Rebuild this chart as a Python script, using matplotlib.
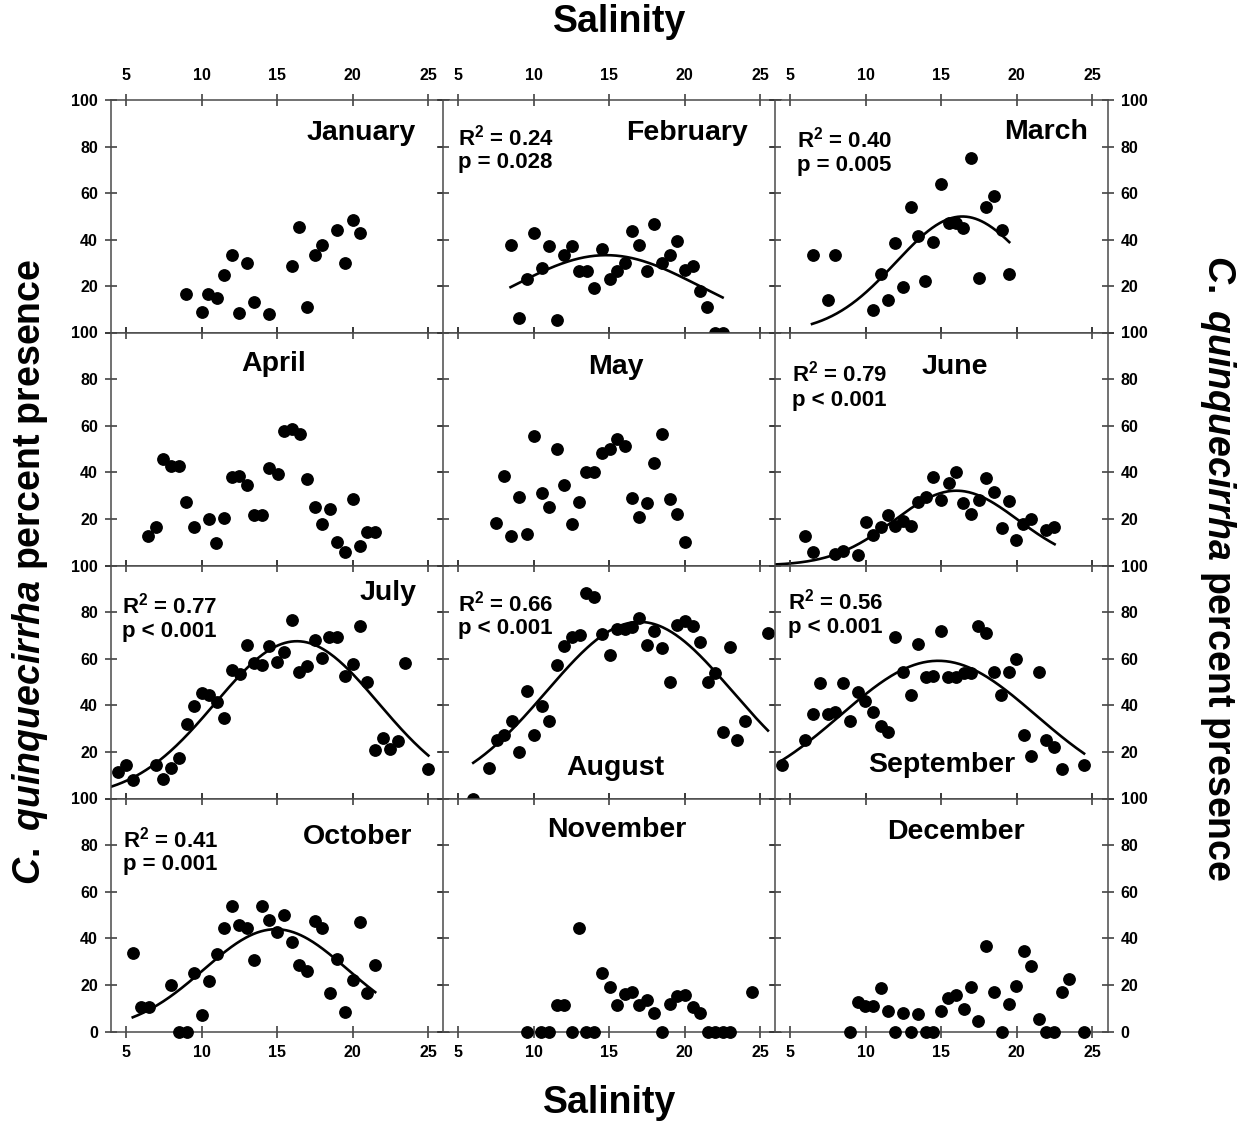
import matplotlib
matplotlib.use("Agg")
import matplotlib.pyplot as plt
import numpy as np

plt.rcParams["font.family"] = ["Liberation Sans", "DejaVu Sans"]
plt.rcParams["font.weight"] = "bold"
plt.rcParams["mathtext.fontset"] = "custom"
plt.rcParams["mathtext.rm"] = "Liberation Sans:bold"
plt.rcParams["mathtext.bf"] = "Liberation Sans:bold"
plt.rcParams["mathtext.it"] = "Liberation Sans:italic:bold"

MONTHS = ["January", "February", "March", "April", "May", "June",
          "July", "August", "September", "October", "November", "December"]

# salinity / percent presence per month
jan_sal = [8.96, 10.0, 10.44, 10.99, 11.48, 12.0, 12.49, 12.97, 13.46, 14.47,
           15.95, 16.45, 16.98, 17.49, 17.97, 18.96, 19.47, 19.98, 20.5]
jan_pct = [16.8, 9.2, 16.8, 15.1, 25.1, 33.4, 8.5, 30.0, 13.3, 8.3,
           28.7, 45.5, 11.0, 33.4, 37.6, 44.3, 30.0, 48.6, 43.0]

feb_sal = [8.52, 9.04, 9.53, 10.05, 10.52, 11.02, 11.53, 12.03, 12.54, 13.02,
           13.53, 14.01, 14.52, 15.02, 15.53, 16.01, 16.49, 17.0, 17.51, 17.99,
           18.47, 19.0, 19.51, 20.01, 20.52, 21.0, 21.48, 22.01, 22.5]
feb_pct = [37.6, 6.6, 23.2, 43.0, 28.0, 37.2, 5.6, 33.4, 37.2, 26.4,
           26.4, 19.4, 35.9, 23.0, 26.8, 30.1, 43.6, 37.7, 26.5, 46.6,
           30.0, 33.4, 39.6, 27.1, 28.7, 18.2, 11.0, 0.0, 0.0]

mar_sal = [6.5, 7.49, 8.0, 10.51, 10.99, 11.48, 11.96, 12.44, 12.97, 13.48, 13.94,
           14.45, 14.96, 15.48, 15.97, 16.45, 16.96, 17.47, 17.97, 18.48, 18.99, 19.47]
mar_pct = [33.4, 14.3, 33.4, 9.9, 25.3, 14.3, 38.5, 19.8, 54.1, 41.5, 22.2,
           38.9, 63.8, 47.2, 47.2, 45.0, 75.2, 23.5, 54.1, 58.7, 44.3, 25.3]

apr_sal = [6.48, 7.0, 7.47, 7.97, 8.5, 8.99, 9.49, 10.48, 10.97, 11.48, 11.98,
           12.49, 12.97, 13.46, 14.0, 14.47, 15.02, 15.44, 15.97, 16.48, 16.98,
           17.49, 17.97, 18.48, 18.96, 19.47, 19.98, 20.48, 20.97, 21.5]
apr_pct = [12.6, 16.7, 45.6, 42.7, 42.7, 27.1, 16.7, 20.0, 9.6, 20.6, 38.1,
           38.4, 34.4, 21.7, 21.7, 42.0, 39.3, 57.7, 58.4, 56.3, 37.0,
           24.9, 17.6, 24.4, 10.0, 5.7, 28.6, 8.3, 14.3, 14.3]

may_sal = [7.53, 8.03, 8.52, 9.02, 9.53, 10.03, 10.52, 11.02, 11.53, 12.01, 12.54,
           13.02, 13.48, 14.01, 14.52, 15.02, 15.53, 16.01, 16.49, 17.0, 17.51,
           17.99, 18.49, 19.0, 19.48, 19.99]
may_pct = [18.1, 38.4, 12.6, 29.3, 13.6, 55.6, 31.3, 25.0, 50.0, 34.7, 17.9,
           27.1, 40.0, 40.0, 48.4, 50.0, 54.1, 51.4, 29.1, 21.0, 26.7,
           44.0, 56.3, 28.6, 22.1, 10.0]

jun_sal = [5.99, 6.5, 8.0, 8.5, 9.47, 10.0, 10.51, 10.99, 11.48, 11.96, 12.47,
           12.97, 13.46, 13.96, 14.47, 14.96, 15.48, 15.99, 16.45, 16.96, 17.47,
           17.97, 18.48, 18.99, 19.47, 19.96, 20.44, 20.97, 21.94, 22.49]
jun_pct = [12.7, 5.7, 4.9, 6.3, 4.6, 18.6, 13.1, 16.7, 21.7, 17.1, 19.1,
           17.1, 27.4, 29.3, 37.9, 27.9, 35.6, 40.3, 26.7, 22.0, 27.9,
           37.4, 31.7, 16.3, 27.7, 11.0, 17.7, 20.0, 15.4, 16.7]

jul_sal = [4.49, 5.0, 5.48, 6.98, 7.47, 8.0, 8.5, 9.01, 9.52, 10.0, 10.48, 10.99,
           11.5, 12.0, 12.53, 12.97, 13.48, 14.01, 14.47, 15.0, 15.46, 15.95,
           16.45, 16.98, 17.49, 17.97, 18.44, 18.96, 19.47, 19.98, 20.48, 20.97,
           21.48, 21.98, 22.49, 23.0, 23.48, 24.98]
jul_pct = [11.4, 14.5, 8.1, 14.2, 8.4, 13.1, 17.5, 31.8, 39.9, 45.4, 44.4, 41.3,
           34.5, 55.1, 53.3, 65.8, 58.0, 57.4, 65.4, 58.4, 63.0, 76.8,
           54.1, 57.0, 67.9, 60.4, 69.1, 69.1, 52.7, 57.7, 74.1, 49.9,
           20.9, 25.9, 21.2, 24.8, 58.3, 12.7]

aug_sal = [6.01, 7.04, 7.55, 8.05, 8.54, 9.04, 9.53, 10.03, 10.52, 11.02, 11.51,
           12.03, 12.54, 13.04, 13.46, 14.01, 14.52, 15.02, 15.53, 16.01, 16.52,
           17.0, 17.51, 17.99, 18.49, 19.0, 19.48, 20.01, 20.52, 21.0, 21.51,
           22.01, 22.52, 23.0, 23.48, 23.99, 25.51]
aug_pct = [0.0, 13.2, 24.9, 27.4, 33.2, 19.9, 46.0, 27.4, 39.9, 33.2, 57.4,
           65.4, 69.4, 70.1, 88.3, 86.5, 70.7, 61.8, 72.6, 72.6, 73.6,
           77.5, 65.8, 71.8, 64.4, 49.9, 74.4, 76.2, 74.2, 67.2, 49.9,
           53.7, 28.5, 65.1, 24.9, 33.2, 71.1]

sep_sal = [4.47, 5.97, 6.5, 6.98, 7.49, 8.0, 8.48, 8.99, 9.47, 9.98, 10.48, 10.99,
           11.48, 11.96, 12.47, 12.97, 13.48, 13.96, 14.47, 14.96, 15.46, 15.97,
           16.48, 16.98, 17.44, 17.97, 18.48, 18.96, 19.47, 19.96, 20.46, 20.97,
           21.48, 21.94, 22.49, 22.97, 24.45]
sep_pct = [14.2, 24.9, 36.3, 49.7, 36.3, 37.3, 49.7, 33.2, 45.9, 42.0, 37.3, 31.3,
           28.5, 69.1, 54.1, 44.4, 66.5, 52.3, 52.7, 71.9, 52.0, 52.0,
           53.7, 53.7, 74.1, 71.1, 54.1, 44.4, 54.1, 59.7, 27.1, 18.1,
           54.1, 24.9, 22.1, 12.7, 14.2]

oct_sal = [5.44, 5.97, 6.5, 7.97, 8.48, 9.01, 9.49, 10.0, 10.48, 10.99, 11.48,
           12.0, 12.49, 12.97, 13.48, 13.99, 14.47, 14.98, 15.46, 15.97, 16.45,
           16.98, 17.49, 17.97, 18.48, 18.96, 19.47, 19.98, 20.48, 20.97, 21.48]
oct_pct = [33.5, 10.4, 10.4, 20.1, 0.0, 0.0, 25.1, 7.1, 21.5, 33.3, 44.3,
           53.7, 45.6, 44.3, 30.8, 53.7, 47.7, 42.9, 50.0, 38.6, 28.6,
           26.1, 47.4, 44.3, 16.5, 31.1, 8.3, 22.2, 47.2, 16.5, 28.6]

nov_sal = [9.53, 10.49, 11.02, 11.51, 12.03, 12.54, 13.02, 13.48, 14.01, 14.52,
           15.02, 15.53, 16.01, 16.52, 17.0, 17.51, 17.99, 18.49, 19.0, 19.48,
           20.01, 20.52, 21.0, 21.51, 22.01, 22.52, 23.0, 24.45]
nov_pct = [0.0, 0.0, 0.0, 11.4, 11.4, 0.0, 44.6, 0.0, 0.0, 25.1,
           18.9, 11.4, 16.1, 16.8, 11.4, 13.5, 8.0, 0.0, 11.8, 15.4,
           15.7, 10.4, 7.8, 0.0, 0.0, 0.0, 0.0, 16.8]

dec_sal = [8.99, 9.47, 9.98, 10.51, 10.99, 11.48, 11.96, 12.47, 12.97, 13.48,
           13.96, 14.47, 14.96, 15.46, 15.97, 16.48, 16.96, 17.44, 17.97, 18.48,
           18.99, 19.47, 19.96, 20.46, 20.97, 21.48, 21.94, 22.49, 22.97, 23.48, 24.45]
dec_pct = [0.0, 12.5, 11.1, 11.1, 18.5, 9.0, 0.0, 7.8, 0.0, 7.3,
           0.0, 0.0, 8.7, 14.4, 15.8, 9.5, 19.2, 4.3, 36.5, 16.8,
           0.0, 11.8, 19.4, 34.6, 27.9, 5.4, 0.0, 0.0, 16.8, 22.5, 0.0]

salinity = [jan_sal, feb_sal, mar_sal, apr_sal, may_sal, jun_sal,
            jul_sal, aug_sal, sep_sal, oct_sal, nov_sal, dec_sal]
presence = [jan_pct, feb_pct, mar_pct, apr_pct, may_pct, jun_pct,
            jul_pct, aug_pct, sep_pct, oct_pct, nov_pct, dec_pct]

# Gaussian fits (peak, centre, width, salinity range) for significant months
fit_months = ["February", "March", "June", "July", "August", "September", "October"]
fit_peak = [33.4, 50.0, 32.1, 67.5, 75.8, 59.1, 43.9]
fit_center = [14.8, 16.4, 16.0, 16.3, 17.0, 14.8, 14.9]
fit_width = [6.15, 4.4, 4.1, 5.4, 6.15, 6.45, 4.76]
fit_start = [8.47, 6.45, 4.0, 4.0, 6.0, 4.47, 5.44]
fit_end = [22.5, 19.5, 22.5, 25.0, 25.5, 24.45, 21.48]
fit_r2 = ["0.24", "0.40", "0.79", "0.77", "0.66", "0.56", "0.41"]
fit_p = ["p = 0.028", "p = 0.005", "p < 0.001", "p < 0.001",
         "p < 0.001", "p < 0.001", "p = 0.001"]

x_ticks = [5, 10, 15, 20, 25]
y_ticks = [0, 20, 40, 60, 80, 100]

# month label placement (axes fraction x, y, horizontal alignment)
month_pos = {
    "January": (0.916, 0.858, "right"), "February": (0.916, 0.858, "right"),
    "March": (0.94, 0.862, "right"), "April": (0.488, 0.863, "center"),
    "May": (0.52, 0.854, "center"), "June": (0.54, 0.854, "center"),
    "July": (0.92, 0.88, "right"), "August": (0.518, 0.129, "center"),
    "September": (0.50, 0.142, "center"), "October": (0.907, 0.833, "right"),
    "November": (0.524, 0.863, "center"), "December": (0.544, 0.858, "center"),
}
# stats text placement (x, y of R2 line, y of p line)
stats_pos = {
    "February": (0.045, 0.84, 0.733), "March": (0.066, 0.832, 0.72),
    "June": (0.051, 0.824, 0.708), "July": (0.033, 0.828, 0.717),
    "August": (0.045, 0.837, 0.73), "September": (0.04, 0.845, 0.734),
    "October": (0.036, 0.824, 0.717),
}

W, H = 1255, 1126
fig = plt.figure(figsize=(W / 100, H / 100), dpi=100)
col_left = [111, 443, 775]
row_top = [100, 332.5, 565.5, 798.5]
ax_w, ax_h = 332.5, 233
edge = "#4a4a4a"

for i, month in enumerate(MONTHS):
    r, c = divmod(i, 3)
    ax = fig.add_axes([col_left[c] / W, 1 - (row_top[r] + ax_h) / H, ax_w / W, ax_h / H])
    ax.plot(salinity[i], presence[i], "o", color="black", ms=8.2, mec="black",
            clip_on=(r < 3), zorder=3)
    if month in fit_months:
        k = fit_months.index(month)
        xs = np.linspace(fit_start[k], fit_end[k], 200)
        ys = fit_peak[k] * np.exp(-0.5 * ((xs - fit_center[k]) / fit_width[k]) ** 2)
        ax.plot(xs, ys, color="black", lw=1.9, zorder=2)
        sx, sy1, sy2 = stats_pos[month]
        ax.text(sx, sy1, r"R$^{2}$ = " + fit_r2[k], transform=ax.transAxes,
                fontsize=16, fontweight="bold", ha="left", va="center")
        ax.text(sx, sy2, fit_p[k], transform=ax.transAxes,
                fontsize=16, fontweight="bold", ha="left", va="center")
    mx, my, mha = month_pos[month]
    ax.text(mx, my, month, transform=ax.transAxes, fontsize=20.5,
            fontweight="bold", ha=mha, va="center")

    ax.set_xlim(4, 26)
    ax.set_ylim(0, 100)
    ax.set_xticks(x_ticks)
    ax.set_yticks(y_ticks)
    ax.set_xticklabels([str(t) for t in x_ticks])
    if r < 3:
        ax.set_yticklabels([""] + [str(t) for t in y_ticks[1:]])
    else:
        ax.set_yticklabels([str(t) for t in y_ticks])
    for s in ax.spines.values():
        s.set_color(edge)
        s.set_linewidth(1.1)
    ax.tick_params(direction="inout", length=9, width=1.1, color="#333333",
                   top=True, right=True, labelsize=11.5,
                   labelleft=(c == 0), labelright=(c == 2),
                   labeltop=(r == 0), labelbottom=(r == 3))
    ax.tick_params(axis="y", pad=5)
    ax.tick_params(axis="x", pad=5)
    if r == 0:
        ax.xaxis.set_tick_params(pad=8)
    for lab in ax.get_xticklabels() + ax.get_yticklabels():
        lab.set_fontweight("bold")

fig.text(620 / W, 1 - 22 / H, "Salinity", fontsize=27, fontweight="bold",
         ha="center", va="center")
fig.text(610 / W, 1 - 1103 / H, "Salinity", fontsize=27, fontweight="bold",
         ha="center", va="center")
ylab = r"$\mathit{C.}$ $\mathit{quinquecirrha}$ percent presence"
fig.text(30 / W, 1 - 572 / H, ylab, fontsize=27, fontweight="bold",
         rotation=90, ha="center", va="center")
fig.text(1218 / W, 1 - 568 / H, ylab, fontsize=27, fontweight="bold",
         rotation=270, ha="center", va="center")

fig.savefig("out.png", dpi=100)
